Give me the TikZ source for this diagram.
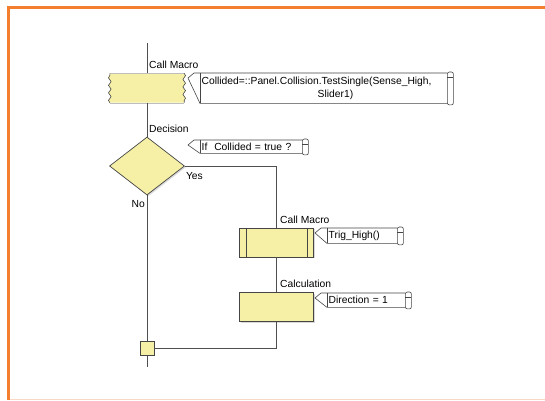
\documentclass[tikz,border=0pt]{standalone}
\usepackage{fontspec}
\setmainfont{Liberation Sans}
\usetikzlibrary{shapes.geometric, calc, decorations.pathmorphing, shadows}
\definecolor{fcFill}{HTML}{F6F0A6}
\definecolor{fcEdge}{HTML}{454545}
\definecolor{fcLine}{HTML}{4F4F4F}
\definecolor{fcOrange}{HTML}{F37E2E}
\definecolor{fcOrangeBg}{HTML}{F9D9C4}
\newcommand{\fcfont}{\fontsize{10.3}{12.5}\selectfont}
\tikzset{
  fcframe/.style={rectangle, minimum width=74pt, minimum height=29pt, inner sep=0pt},
  fcbox/.style={fcframe, draw=fcEdge, fill=fcFill, line width=0.7pt,
    drop shadow={shadow xshift=1.3pt, shadow yshift=-1.3pt, opacity=0.3}},
  fcdiamond/.style={diamond, draw=fcEdge, fill=fcFill, line width=0.7pt,
    minimum width=75pt, minimum height=58pt, inner sep=0pt,
    drop shadow={shadow xshift=1.3pt, shadow yshift=-1.3pt, opacity=0.3}},
  fcjoin/.style={rectangle, draw=fcEdge, fill=fcFill, line width=0.7pt,
    minimum size=14pt, inner sep=0pt,
    drop shadow={shadow xshift=1.3pt, shadow yshift=-1.3pt, opacity=0.3}},
  fcsnake/.style={decoration={snake, segment length=7.5pt, amplitude=1.3pt}},
  fcline/.style={draw=fcLine, line width=0.8pt},
  fclabel/.style={font=\fcfont, inner sep=1pt, text=black},
  fcnote/.style={rectangle, anchor=north west, font=\fcfont, inner xsep=1.5pt,
    inner ysep=0.5pt, align=left},
  fcnoteline/.style={draw=fcEdge, line width=0.6pt}
}
\begin{document}
\begin{tikzpicture}[x=1pt, y=-1pt]
  \useasboundingbox (0,0) rectangle (545,400);
  \draw[fcOrange, line width=3pt] (8,400) -- (8,7.5) -- (545,7.5);
  \draw[fcOrangeBg, line width=1pt] (9.5,399.5) -- (545,399.5);

  \coordinate (top) at (147,43);
  \coordinate (bottom) at (147,367);
  \node[fcframe] (macroA) at (147,88) {};
  \node[fcdiamond] (dec) at (147,166) {};
  \node[fcbox] (macroB) at (276.5,242.5) {};
  \node[fcbox] (calc) at (276.5,307) {};
  \node[fcjoin] (join) at (147,348) {};

  % wavy macro box
  \fill[fcFill] (macroA.north west) -- (macroA.north east)
    decorate[fcsnake]{-- (macroA.south east)} -- (macroA.south west)
    decorate[fcsnake]{-- (macroA.north west)};
  \draw[fcEdge!35, line width=0.4pt] (macroA.north west) -- (macroA.north east);
  \draw[fcEdge!35, line width=0.4pt] (macroA.south west) -- (macroA.south east);
  \draw[fcEdge, line width=0.6pt, fcsnake, decorate] (macroA.north east) -- (macroA.south east);
  \draw[fcEdge, line width=0.6pt, fcsnake, decorate] (macroA.south west) -- (macroA.north west);

  \draw[fcEdge, line width=0.7pt] ($(macroB.north west)+(7,0)$) -- ($(macroB.south west)+(7,0)$);
  \draw[fcEdge, line width=0.7pt] ($(macroB.north east)+(-7,0)$) -- ($(macroB.south east)+(-7,0)$);

  \draw[fcline] (top) -- (macroA.north);
  \draw[fcline] (macroA.south) -- (dec.north);
  \draw[fcline] (dec.south) -- (join.north);
  \draw[fcline] (join.south) -- (bottom);
  \draw[fcline] (dec.east) -| (macroB.north);
  \draw[fcline] (macroB.south) -- (calc.north);
  \draw[fcline] (calc.south) |- (join.east);

  \node[fclabel, anchor=base west] (lblMacroA) at ([xshift=1pt, yshift=5pt]macroA.north) {Call Macro};
  \node[fclabel, anchor=base west] (lblDec) at ([xshift=1pt, yshift=4pt]dec.north) {Decision};
  \node[fclabel, anchor=base west] (lblMacroB) at ([xshift=2.5pt, yshift=4pt]macroB.north) {Call Macro};
  \node[fclabel, anchor=base west] (lblCalc) at ([xshift=2.5pt, yshift=5pt]calc.north) {Calculation};
  \node[fclabel, anchor=north west] (lblYes) at ([yshift=-5pt]dec.east) {Yes};
  \node[fclabel, anchor=north east] (lblNo) at ([xshift=-1pt, yshift=-4pt]dec.south) {No};

  \node[fcnote, text width=244pt, minimum height=30pt] (noteA) at (200,73)
    {Collided=::Panel.Collision.TestSingle(Sense\_High,\\\hspace*{116pt}Slider1)};
  \node[fcnote, text width=99pt, minimum height=13pt] (noteB) at (200,140) {If\ \ Collided = true ?};
  \node[fcnote, text width=67pt, minimum height=15pt] (noteC) at (327,228) {Trig\_High()};
  \node[fcnote, text width=75pt, minimum height=14pt] (noteD) at (327,293) {Direction = 1};

  \foreach \n in {noteA, noteB, noteC, noteD}{
    \draw[fcnoteline] (\n.north east) -- ($(\n.north west)+(-6,0)$) -- ($(\n.north west)+(-12,5)$)
      -- (\n.south west) -- (\n.south east);
    \draw[fcnoteline] (\n.north west) -- (\n.south west);
    \draw[fcnoteline, rounded corners=2pt] ($(\n.north east)+(0,-1)$) rectangle ($(\n.south east)+(6,1.5)$);
    \draw[fcnoteline] ($(\n.north east)+(0,4)$) -- ++(6,0);
  }
\end{tikzpicture}
\end{document}
